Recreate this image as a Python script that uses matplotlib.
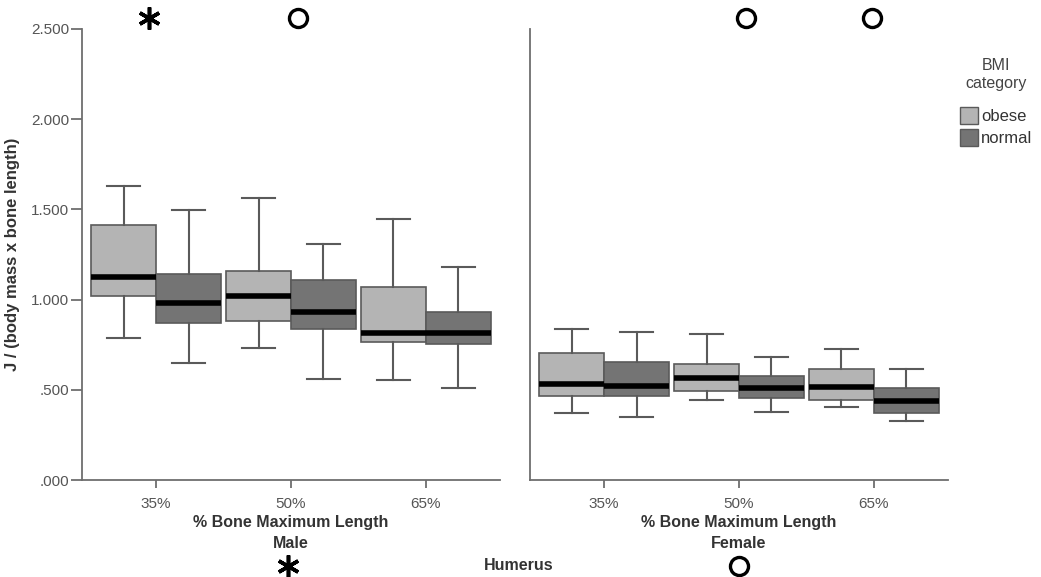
import matplotlib
matplotlib.use("Agg")
import matplotlib.pyplot as plt
from matplotlib.patches import Patch

# sites along the bone
sites = ["35%", "50%", "65%"]
groups = ["obese", "normal"]
colors = {"obese": "#b4b4b4", "normal": "#747474"}

# five-number summaries: whislo, q1, med, q3, whishi
male = {
    "obese": [
        (0.789, 1.020, 1.127, 1.413, 1.631),
        (0.730, 0.881, 1.020, 1.160, 1.561),
        (0.554, 0.763, 0.817, 1.068, 1.445),
    ],
    "normal": [
        (0.650, 0.868, 0.983, 1.142, 1.497),
        (0.560, 0.839, 0.933, 1.109, 1.308),
        (0.508, 0.754, 0.813, 0.931, 1.179),
    ],
}
female = {
    "obese": [
        (0.370, 0.467, 0.532, 0.702, 0.835),
        (0.443, 0.493, 0.567, 0.643, 0.807),
        (0.406, 0.443, 0.517, 0.615, 0.724),
    ],
    "normal": [
        (0.347, 0.467, 0.521, 0.656, 0.822),
        (0.379, 0.453, 0.508, 0.576, 0.684),
        (0.329, 0.370, 0.438, 0.508, 0.615),
    ],
}
yticks = [0.0, 0.5, 1.0, 1.5, 2.0, 2.5]
yticklabels = [".000", ".500", "1.000", "1.500", "2.000", "2.500"]

# extreme-value symbols above the panels (site index, value)
male_stars = [(-0.05, 2.56)]
male_circles = [(1.05, 2.56)]
female_circles = [(1.05, 2.56), (1.985, 2.56)]

plt.rcParams["font.family"] = ["Liberation Sans", "DejaVu Sans"]

fig = plt.figure(figsize=(10.41, 5.77), dpi=100)
axm = fig.add_axes([82 / 1041, 1 - 480 / 577, 418 / 1041, 451 / 577])
axf = fig.add_axes([530 / 1041, 1 - 480 / 577, 418 / 1041, 451 / 577])

width = 0.481
offset = 0.241
spine_col = "#6e6e6e"
label_col = "#333333"
tick_col = "#555555"
star = dict(marker=(6, 2, 0), markersize=16, mec="black", mew=2.6)
ring = dict(marker="o", markersize=13, mfc="white", mec="black", mew=2.4)

def draw_panel(ax, data):
    for g, sign in zip(groups, (-1, 1)):
        stats = []
        for s in data[g]:
            stats.append({"whislo": s[0], "q1": s[1], "med": s[2],
                          "q3": s[3], "whishi": s[4], "fliers": []})
        pos = [i + sign * offset for i in range(len(sites))]
        ax.bxp(stats, positions=pos, widths=width, capwidths=width * 0.5,
               patch_artist=True, showfliers=False, manage_ticks=False,
               boxprops=dict(facecolor=colors[g], edgecolor="#5a5a5a", linewidth=1.2),
               medianprops=dict(color="black", linewidth=4, solid_capstyle="butt"),
               whiskerprops=dict(color="#5a5a5a", linewidth=1.5),
               capprops=dict(color="#5a5a5a", linewidth=1.5))
    ax.set_xlim(-0.55, 2.55)
    ax.set_ylim(0, 2.5)
    for side in ["top", "right"]:
        ax.spines[side].set_visible(False)
    for side in ["left", "bottom"]:
        ax.spines[side].set_color(spine_col)
        ax.spines[side].set_linewidth(1.3)
    ax.set_xticks(range(len(sites)))
    ax.set_xticklabels(sites, fontsize=11, color=tick_col)
    ax.tick_params(axis="x", length=6, width=1.3, color=spine_col, pad=6)
    ax.set_xlabel("% Bone Maximum Length", fontsize=11.5, fontweight="bold",
                  color=label_col, labelpad=3)

draw_panel(axm, male)
draw_panel(axf, female)

axm.set_yticks(yticks)
axm.set_yticklabels(yticklabels, fontsize=11, color=tick_col)
axm.tick_params(axis="y", length=8, width=1.3, color=spine_col, pad=1)
axm.set_ylabel("J / (body mass x bone length)", fontsize=12, fontweight="bold",
               color=label_col, labelpad=8)
axf.set_yticks([])

for ax, stars, circles in [(axm, male_stars, male_circles), (axf, [], female_circles)]:
    for x, y in stars:
        ax.plot(x, y, clip_on=False, **star)
    for x, y in circles:
        ax.plot(x, y, clip_on=False, **ring)

fig.text(291 / 1041, 1 - 543 / 577, "Male", fontsize=11.5, fontweight="bold",
         color=label_col, ha="center", va="center")
fig.text(739 / 1041, 1 - 543 / 577, "Female", fontsize=11.5, fontweight="bold",
         color=label_col, ha="center", va="center")
fig.text(519 / 1041, 1 - 566 / 577, "Humerus", fontsize=11.5, fontweight="bold",
         color=label_col, ha="center", va="center")
fig.lines.append(plt.Line2D([288 / 1041], [1 - 566 / 577], transform=fig.transFigure, **star))
fig.lines.append(plt.Line2D([739 / 1041], [1 - 566 / 577], transform=fig.transFigure, **ring))

handles = [Patch(facecolor=colors[g], edgecolor="#5a5a5a", label=g) for g in groups]
leg = fig.legend(handles=handles, title="BMI\ncategory", loc="upper left",
                 bbox_to_anchor=(952 / 1041, 1 - 50 / 577), frameon=False,
                 prop={"size": 12}, handlelength=1.05, handleheight=1.15,
                 handletextpad=0.2, labelspacing=0.3, borderpad=0)
leg.get_title().set_fontsize(11.5)
leg.get_title().set_color("#444444")
leg.get_title().set_multialignment("center")
leg._legend_box.sep = 12
for t in leg.get_texts():
    t.set_color(label_col)

fig.savefig("out.png", dpi=100)
